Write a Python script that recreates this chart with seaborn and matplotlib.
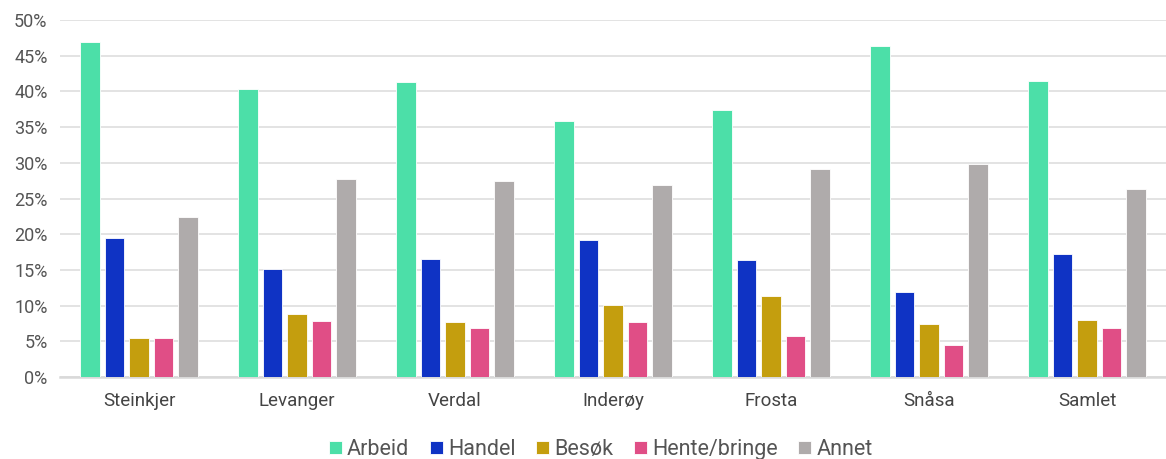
import pandas as pd
import numpy as np
import matplotlib
matplotlib.use("Agg")
import matplotlib.pyplot as plt
import seaborn as sns
from matplotlib.ticker import PercentFormatter

# Data (share of trips, %)
places = ['Steinkjer', 'Levanger', 'Verdal', 'Inderøy', 'Frosta', 'Snåsa', 'Samlet']
purposes = ['Arbeid', 'Handel', 'Besøk', 'Hente/bringe', 'Annet']
arbeid = [46.9, 40.3, 41.3, 35.9, 37.4, 46.3, 41.5]
handel = [19.5, 15.1, 16.5, 19.2, 16.4, 11.9, 17.2]
besok = [5.4, 8.8, 7.7, 10.1, 11.3, 7.4, 8.0]
hente = [5.5, 7.8, 6.9, 7.7, 5.7, 4.5, 6.9]
annet = [22.4, 27.7, 27.4, 26.9, 29.1, 29.8, 26.4]
colors = ['#4CDFA8', '#0F33C4', '#C49E0E', '#E04E86', '#AFABAB']

# Long format for seaborn
values = [arbeid, handel, besok, hente, annet]
rows = []
for purpose, vals in zip(purposes, values):
    for place, v in zip(places, vals):
        rows.append({'place': place, 'purpose': purpose, 'share': v})
df = pd.DataFrame(rows)

sns.set_style('white')
plt.rcParams['font.family'] = ['Roboto', 'DejaVu Sans']

fig = plt.figure(figsize=(11.66, 4.59), dpi=100)
ax = fig.add_axes([60 / 1166, 1 - 377 / 459, 1106 / 1166, 357 / 459])

sns.barplot(data=df, x='place', y='share', hue='purpose', hue_order=purposes,
            order=places, palette=colors, saturation=1, width=0.775, gap=0.2,
            edgecolor='white', linewidth=0.6, ax=ax, zorder=3)

ax.set_xlim(-0.5, len(places) - 0.5)
ax.set_ylim(0, 50)
ax.set_yticks(np.arange(0, 51, 5))
ax.yaxis.set_major_formatter(PercentFormatter(decimals=0))
ax.grid(axis='y', color='#DEDEDE', linewidth=1.2, zorder=0)
ax.set_xlabel('')
ax.set_ylabel('')
for s in ['top', 'right', 'left']:
    ax.spines[s].set_visible(False)
ax.spines['bottom'].set_color('#D9D9D9')
ax.spines['bottom'].set_linewidth(1.8)
ax.tick_params(axis='y', length=0, pad=9, labelsize=13, labelcolor='#555555')
ax.tick_params(axis='x', length=0, pad=11, labelsize=13.5, labelcolor='#444444')

ax.legend(loc='upper center', bbox_to_anchor=(0.489, -0.12), ncol=5, frameon=False,
          fontsize=15.5, handlelength=0.6, handleheight=0.6, handletextpad=0.25,
          columnspacing=0.95, labelcolor='#555555')

fig.savefig('out.png', dpi=100)
